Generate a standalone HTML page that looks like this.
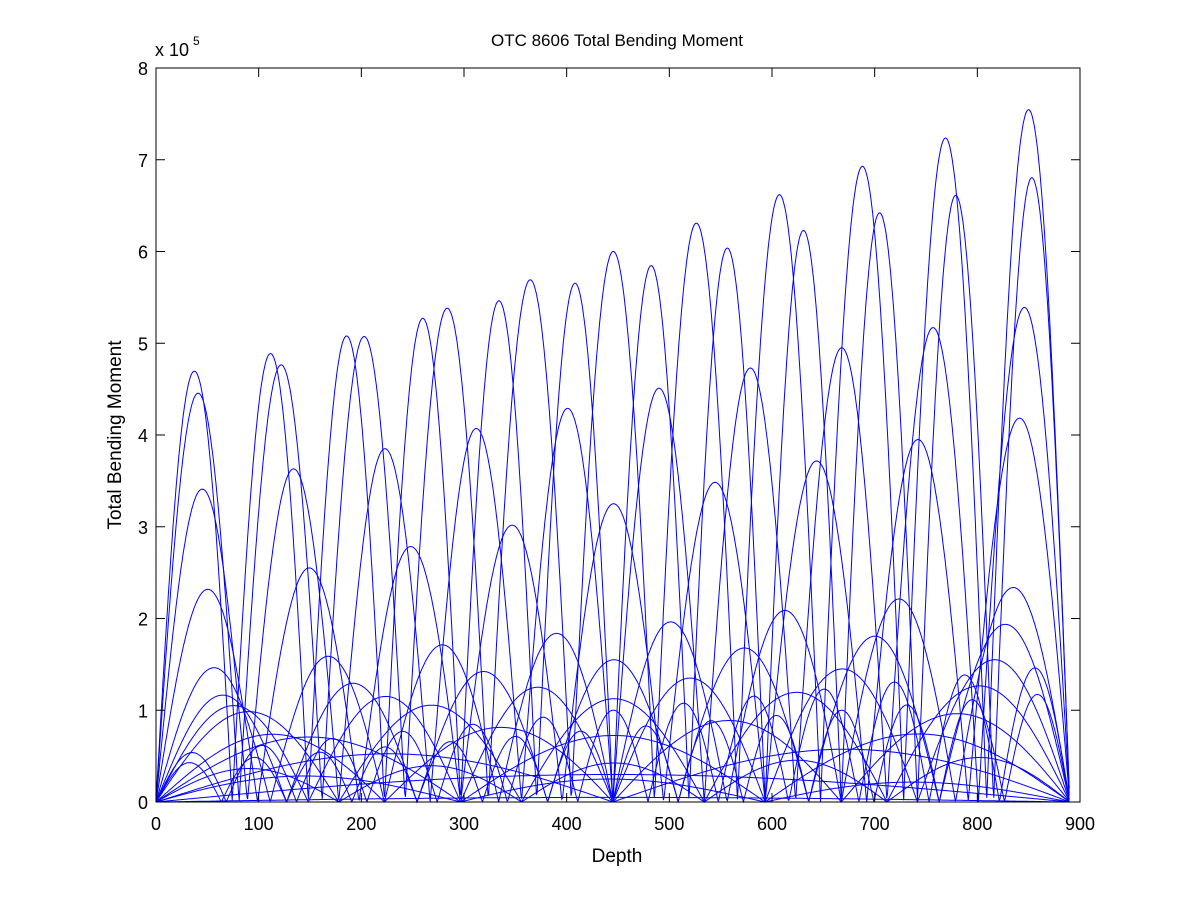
<!DOCTYPE html>
<html><head><meta charset="utf-8"><style>
html,body{margin:0;padding:0;background:#fff;}
svg text{font-family:"Liberation Sans",sans-serif;fill:#000;}
</style></head><body>
<svg id="s" width="1200" height="901" xmlns="http://www.w3.org/2000/svg">
<rect width="1200" height="901" fill="#fff"/>
<g id="curves" fill="none" stroke="#0000ff" stroke-width="1"></g>
<rect x="156" y="68" width="924" height="734" fill="none" stroke="#000" stroke-width="1"/>
<g id="ticks" stroke="#000" stroke-width="1"></g>
<g id="labels" font-size="18"></g>
<text x="617" y="46" font-size="17" text-anchor="middle">OTC 8606 Total Bending Moment</text>
<text x="617" y="862" font-size="19" text-anchor="middle">Depth</text>
<text transform="translate(121,435) rotate(-90)" font-size="19" text-anchor="middle">Total Bending Moment</text>
<text x="155" y="56" font-size="18">x 10</text><text x="193" y="45" font-size="12">5</text>
</svg>
<script>
var X0=156,Y0=802,sx=924/900,sy=734/8e5,L=890;
var ns="http://www.w3.org/2000/svg";
var tk=document.getElementById('ticks'),lb=document.getElementById('labels');
function ln(x1,y1,x2,y2){var l=document.createElementNS(ns,'line');l.setAttribute('x1',x1);l.setAttribute('y1',y1);l.setAttribute('x2',x2);l.setAttribute('y2',y2);tk.appendChild(l);}
function tx(x,y,t,a){var e=document.createElementNS(ns,'text');e.setAttribute('x',x);e.setAttribute('y',y);e.setAttribute('text-anchor',a);e.textContent=t;lb.appendChild(e);}
for(var i=0;i<=9;i++){var x=X0+i*100*sx;ln(x,802,x,793);ln(x,68,x,77);tx(x,830,String(i*100),'middle');}
for(var j=0;j<=8;j++){var y=Y0-j*1e5*sy;ln(156,y,165,y);ln(1080,y,1071,y);tx(148,y+7,String(j),'end');}
var C=[[12,4.6,6.9],[11,4.3,7.7],[10,3.3,5.5],[9,2.2,4.3],[8,1.4,2.4],[7,1.1,2.0],[6,1.0,1.6],[5,0.95,1.3],[4,0.7,1.0],[3,0.7,0.75],[2,0.5,0.6],[1,0.3,0.3],[13,0.5,1.5],[14,0.4,1.2],[3,0.3,0.2],[5,0.35,0.5],[1,0.05,0.05]];
var g=document.getElementById('curves');
C.forEach(function(c){var p=[];for(var x=0;x<=L;x+=0.75){var A=(c[1]+(c[2]-c[1])*x/L)*1e5;var v=A*Math.abs(Math.sin(c[0]*Math.PI*x/L));p.push((X0+x*sx).toFixed(1)+','+(Y0-v*sy).toFixed(1));}
var e=document.createElementNS(ns,'polyline');e.setAttribute('points',p.join(' '));g.appendChild(e);});
</script>
</body></html>
